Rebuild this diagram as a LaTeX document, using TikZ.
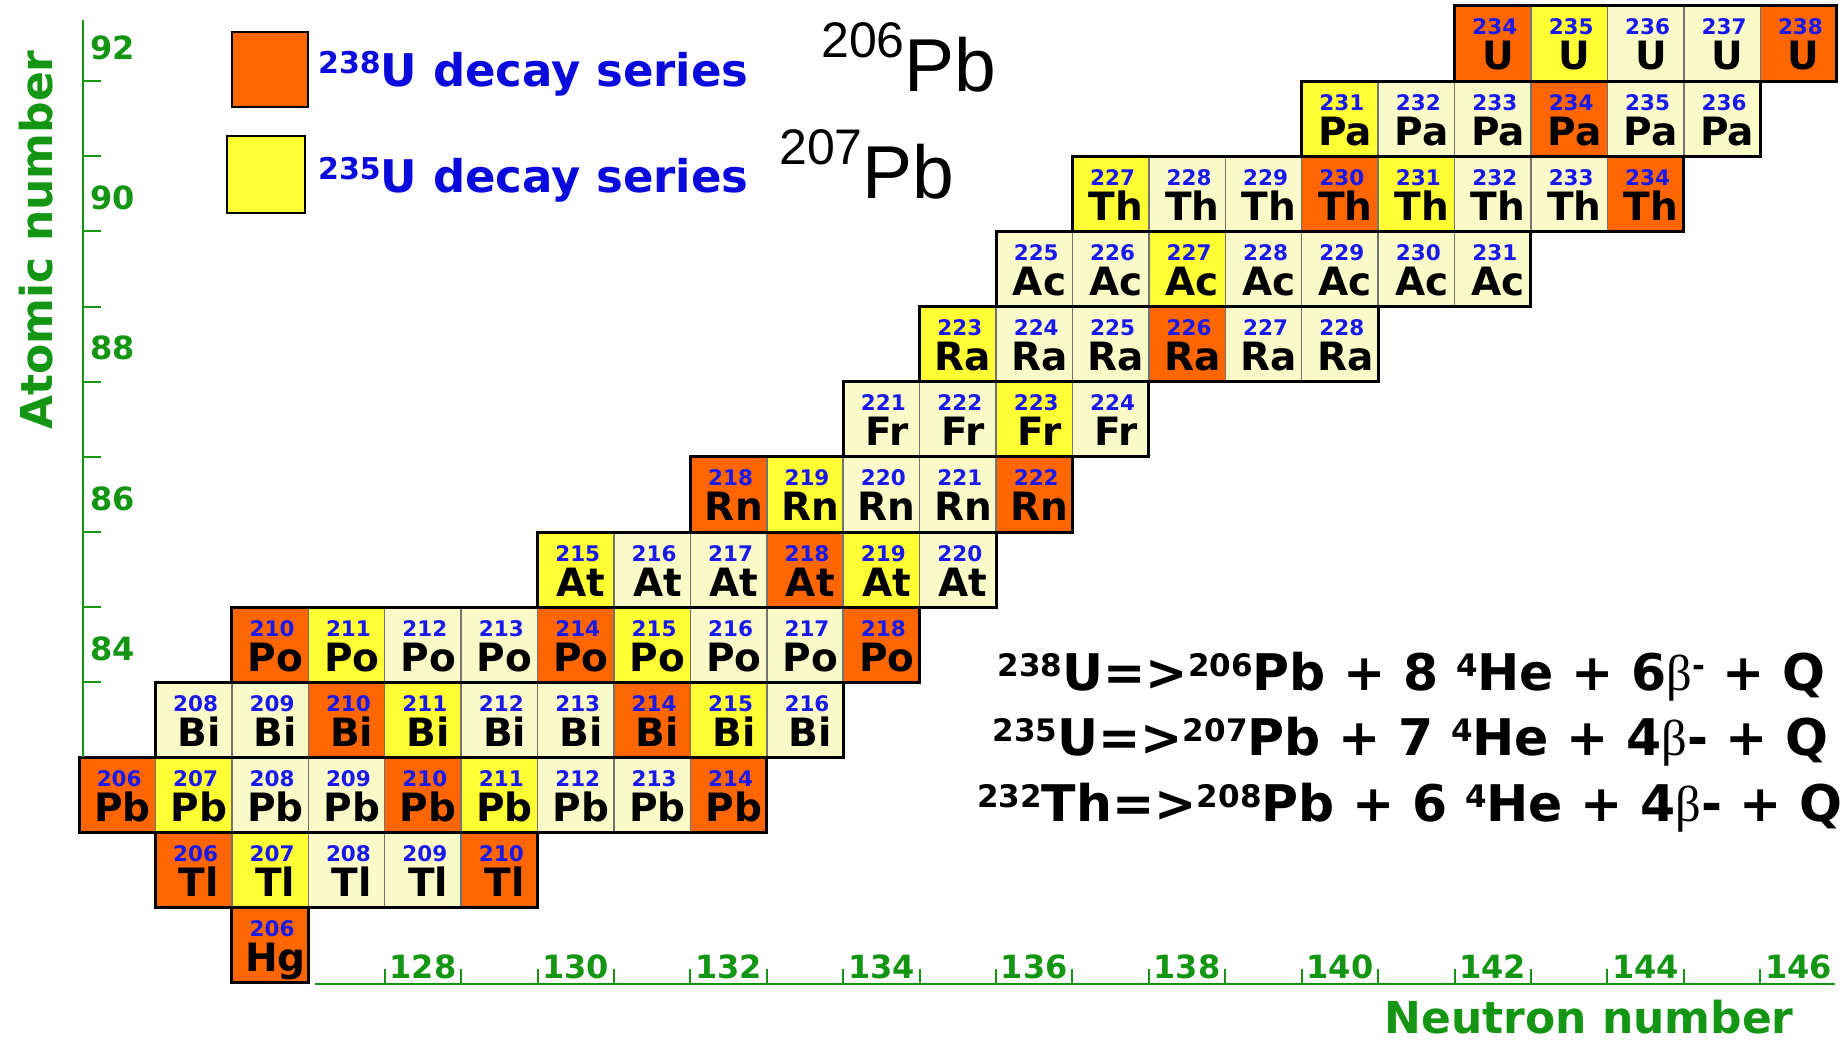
\documentclass[tikz,border=0pt]{standalone}
\usepackage{fontspec}
\setmainfont{DejaVu Sans}
\newfontfamily\vb{DejaVu Sans Bold}
\newfontfamily\arl{Liberation Sans}
\newfontfamily\tms{Liberation Serif}
\definecolor{corange}{RGB}{255,102,0}
\definecolor{cyellow}{RGB}{255,255,51}
\definecolor{clight}{RGB}{250,250,200}
\definecolor{axgreen}{RGB}{20,150,20}
\definecolor{numblue}{RGB}{25,25,235}
\definecolor{legblue}{RGB}{10,10,220}
\newcommand\spx[3]{\raisebox{#2pt}{\fontsize{#1}{#1}\selectfont #3}}
\newcommand\eqs[1]{\spx{31}{13.5}{#1}}
\tikzset{
  cellbox/.style={draw=black!55, line width=1.5},
  rowline/.style={draw=black, line width=3},
  numtext/.style={font=\vb\fontsize{21.5}{21.5}\selectfont, text=numblue, inner sep=0, anchor=base},
  symtext/.style={font=\vb\fontsize{39}{39}\selectfont, text=black, inner sep=0, anchor=base},
  axisline/.style={draw=axgreen, line width=2},
  axlab/.style={font=\vb\fontsize{32}{32}\selectfont, text=axgreen, inner sep=0},
  axtitle/.style={font=\vb\fontsize{44}{44}\selectfont, text=axgreen, inner sep=0, anchor=base},
  legbox/.style={draw=black, line width=2},
  legtext/.style={font=\vb\fontsize{45}{45}\selectfont, text=legblue, inner sep=0, anchor=base west},
  pbtext/.style={font=\arl\fontsize{75}{75}\selectfont, text=black, inner sep=0, anchor=base west},
  eqtext/.style={font=\vb\fontsize{50.5}{50.5}\selectfont, text=black, inner sep=0, anchor=base east},
}
\def\rowspec{%
 92/U/142/146/{234/corange,235/cyellow,236/clight,237/clight,238/corange},
 91/Pa/140/145/{231/cyellow,232/clight,233/clight,234/corange,235/clight,236/clight},
 90/Th/137/144/{227/cyellow,228/clight,229/clight,230/corange,231/cyellow,232/clight,233/clight,234/corange},
 89/Ac/136/142/{225/clight,226/clight,227/cyellow,228/clight,229/clight,230/clight,231/clight},
 88/Ra/135/140/{223/cyellow,224/clight,225/clight,226/corange,227/clight,228/clight},
 87/Fr/134/137/{221/clight,222/clight,223/cyellow,224/clight},
 86/Rn/132/136/{218/corange,219/cyellow,220/clight,221/clight,222/corange},
 85/At/130/135/{215/cyellow,216/clight,217/clight,218/corange,219/cyellow,220/clight},
 84/Po/126/134/{210/corange,211/cyellow,212/clight,213/clight,214/corange,215/cyellow,216/clight,217/clight,218/corange},
 83/Bi/125/133/{208/clight,209/clight,210/corange,211/cyellow,212/clight,213/clight,214/corange,215/cyellow,216/clight},
 82/Pb/124/132/{206/corange,207/cyellow,208/clight,209/clight,210/corange,211/cyellow,212/clight,213/clight,214/corange},
 81/Tl/125/129/{206/corange,207/cyellow,208/clight,209/clight,210/corange},
 80/Hg/126/126/{206/corange}}
\begin{document}
\begin{tikzpicture}[x=1pt,y=-1pt]
\fill[white] (0,0) rectangle (1848,1041);
\useasboundingbox (0,0) rectangle (1848,1041);
% cells
\foreach \Z/\sym/\Nl/\Nr/\lst in \rowspec {
  \pgfmathsetmacro\yt{6+(92-\Z)*75.15}
  \foreach \A/\col in \lst {
    \pgfmathsetmacro\xl{79+(\A-\Z-124)*76.42}
    \path[cellbox, fill=\col] (\xl,\yt) rectangle ++(76.42,75.15);
    \node[numtext] (n\A\sym) at (\xl+40.2,\yt+29) {\A};
    \node[symtext] (s\A\sym) at (\xl+43.5,\yt+64) {\sym};
  }
}
% row outlines
\foreach \Z/\sym/\Nl/\Nr/\lst in \rowspec {
  \pgfmathsetmacro\yt{6+(92-\Z)*75.15}
  \draw[rowline] ({79+(\Nl-124)*76.42},\yt) rectangle ({79+(\Nr-123)*76.42},\yt+75.15);
}
% y axis
\draw[axisline] (83,20) -- (83,757);
\foreach \k in {0,...,8} \draw[axisline] (83,81.15+\k*75.15) -- (101,81.15+\k*75.15);
\foreach \Z in {92,90,88,86,84} \node[axlab] (yl\Z) at (112.5,{6+(92-\Z)*75.15+41.6}) {\Z};
\node[axtitle, rotate=90] (ytitle) at (52,240) {Atomic number};
% x axis
\draw[axisline] (315,984) -- (1835,984);
\foreach \N in {128,...,146} \draw[axisline] ({79+(\N-124)*76.42},984) -- ++(0,-15);
\foreach \N in {128,130,...,146} \node[axlab, anchor=base] (xl\N) at ({79+(\N-124)*76.42+38.2},978) {\N};
\node[axtitle] (xtitle) at (1589,1033) {Neutron number};
% legend
\draw[legbox, fill=corange] (231.5,31.7) rectangle (308,106.5);
\draw[legbox, fill=cyellow] (226.5,136) rectangle (305,213);
\node[legtext] (leg1) at (318,86) {\spx{30}{13}{238}U decay series};
\node[legtext] (leg2) at (318,192) {\spx{30}{13}{235}U decay series};
\node[pbtext] (pb206) at (821,92) {\spx{50}{34}{206}Pb};
\node[pbtext] (pb207) at (779,198) {\spx{50}{34}{207}Pb};
% equations
\node[eqtext] (eq1) at (1826,690) {\eqs{238}U=>\eqs{206}Pb + 8 \eqs{4}He + 6{\tms β}\eqs{-} + Q};
\node[eqtext] (eq2) at (1829,755) {\eqs{235}U=>\eqs{207}Pb + 7 \eqs{4}He + 4{\tms β}- + Q};
\node[eqtext] (eq3) at (1843,821) {\eqs{232}Th=>\eqs{208}Pb + 6 \eqs{4}He + 4{\tms β}- + Q};
\end{tikzpicture}
\end{document}
